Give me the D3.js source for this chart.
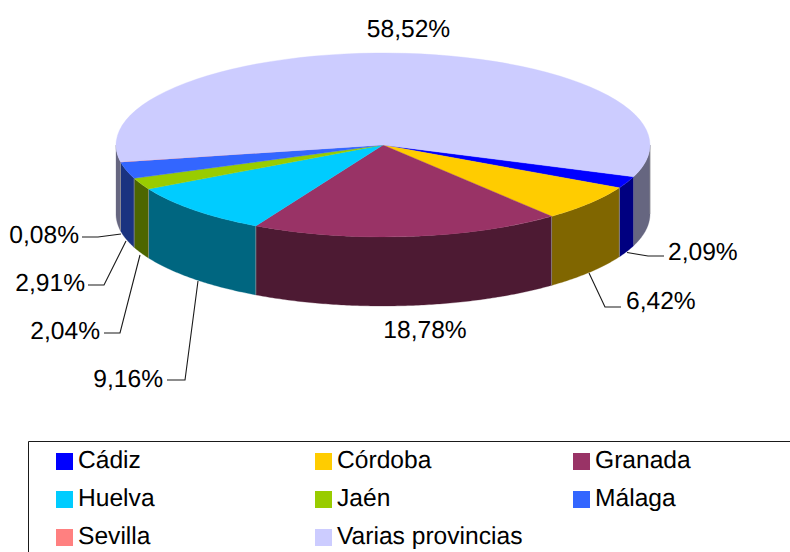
<!DOCTYPE html>
<html>
<head>
<meta charset="utf-8">
<script src="https://cdn.jsdelivr.net/npm/d3@7/dist/d3.min.js"></script>
<style>
html,body{margin:0;padding:0;background:#fff;overflow:hidden}
svg{display:block}
text{font-family:"Liberation Sans",Arial,sans-serif;font-size:24.6px;fill:#000;text-rendering:geometricPrecision}
</style>
</head>
<body>
<script>
const categories = ["Cádiz","Córdoba","Granada","Huelva","Jaén","Málaga","Sevilla","Varias provincias"];
const shares = [2.09,6.42,18.78,9.16,2.04,2.91,0.08,58.52];
const shareLabels = ["2,09%","6,42%","18,78%","9,16%","2,04%","2,91%","0,08%","58,52%"];
const topColors = ["#0000ff","#ffcc00","#993366","#00ccff","#99cc00","#3366ff","#ff8080","#ccccff"];
const sideColors = ["#000080","#806600","#4d1a33","#006680","#4d6600","#1a3380","#804040","#666680"];

// layout
const W = 790, H = 552;
const cx = 383, cy = 145, rx = 267, ry = 92, depth = 69;
const startDeg = 110.2;            // d3.pie angle: 0 = 12 o'clock, clockwise
const labelLayout = [
  {tx:668, ty:260, anchor:"start", elbow:[648,256], end:[664,256]},
  {tx:626, ty:309, anchor:"start", elbow:[605,307], end:[621,307]},
  {tx:425, ty:338, anchor:"middle"},
  {tx:163, ty:387, anchor:"end", elbow:[185,380], end:[167,380]},
  {tx:100, ty:339, anchor:"end", elbow:[120,333], end:[104,333]},
  {tx:85,  ty:291, anchor:"end", elbow:[104,285], end:[88,285]},
  {tx:79,  ty:243, anchor:"end", elbow:[98,237], end:[82,237]},
  {tx:408.5, ty:37,  anchor:"middle"}
];
const leaderStart = [[627,252.5],[589,273],null,[198,281],[140,255],[126,241],[121,234],null];
const legendCols = [56,315,573], legendRowY = 453, legendPitch = 38, swatch = 17;

const svg = d3.select("body").append("svg").attr("width",W).attr("height",H).attr("viewBox",`0 0 ${W} ${H}`);

const rows = categories.map((c,i)=>({name:c,value:shares[i],label:shareLabels[i],top:topColors[i],side:sideColors[i],layout:labelLayout[i],from:leaderStart[i],idx:i}));
const start = startDeg*Math.PI/180;
const pie = d3.pie().sort(null).value(d=>d.value).startAngle(start).endAngle(start+2*Math.PI);
const arcs = pie(rows);

// pie angle -> pixel position on the ellipse
const px = a => cx + rx*Math.sin(a);
const py = (a,off=0) => cy - ry*Math.cos(a) + off;
const sideLine = d3.line().x(d=>d[0]).y(d=>d[1]);

// visible side wall = pie angles between PI/2 and 3PI/2
const lo = Math.PI/2, hi = 3*Math.PI/2;
const sidePieces = [];
arcs.forEach(a=>{
  [0,2*Math.PI].forEach(shift=>{
    const s = Math.max(a.startAngle-shift,lo), e = Math.min(a.endAngle-shift,hi);
    if (e>s) sidePieces.push({s,e,color:a.data.side,thin:a.data.value<0.5});
  });
});
const sideG = svg.append("g");
sidePieces.forEach(p=>{
  const angs = d3.range(p.s,p.e,0.01).concat([p.e]);
  const pts = angs.map(a=>[px(a),py(a)]).concat(angs.slice().reverse().map(a=>[px(a),py(a,depth)]));
  sideG.append("path").attr("d",sideLine(pts)+"Z").attr("fill",p.color).attr("stroke",p.color).attr("stroke-width",p.thin?0:0.3);
});
// seams between wall pieces
sidePieces.slice(1).filter(p=>!p.thin).forEach(p=>{
  sideG.append("line").attr("x1",px(p.s)).attr("x2",px(p.s)).attr("y1",py(p.s)).attr("y2",py(p.s,depth))
    .attr("stroke","#999").attr("stroke-width",0.8).attr("stroke-opacity",0.8);
});

// top face via d3.arc, squashed into the ellipse
const arcGen = d3.arc().innerRadius(0).outerRadius(100);
svg.append("g").attr("transform",`translate(${cx},${cy}) scale(${rx/100},${ry/100})`)
  .selectAll("path").data(arcs).join("path")
  .attr("d",arcGen).attr("fill",d=>d.data.top)
  .attr("stroke",d=>d.data.top).attr("stroke-width",d=>d.data.value<0.5?0:0.2);

// leaders
rows.filter(r=>r.from).forEach(r=>{
  svg.append("path").attr("d",sideLine([r.from,r.layout.elbow,r.layout.end]))
    .attr("fill","none").attr("stroke","#1a1a1a").attr("stroke-width",1.1);
});
// labels
svg.append("g").selectAll("text").data(rows).join("text")
  .attr("x",d=>d.layout.tx).attr("y",d=>d.layout.ty)
  .attr("text-anchor",d=>d.layout.anchor).text(d=>d.label);

// legend
svg.append("path").attr("d",`M${W},441.5H28.5V${H}`).attr("fill","none").attr("stroke","#1a1a1a").attr("stroke-width",1);
const lg = svg.append("g").selectAll("g").data(rows).join("g")
  .attr("transform",d=>`translate(${legendCols[d.idx%3]},${legendRowY+legendPitch*Math.floor(d.idx/3)})`);
lg.append("rect").attr("width",swatch).attr("height",swatch).attr("fill",d=>d.top);
lg.append("text").attr("x",22).attr("y",14.5).text(d=>d.name);
</script>
</body>
</html>
